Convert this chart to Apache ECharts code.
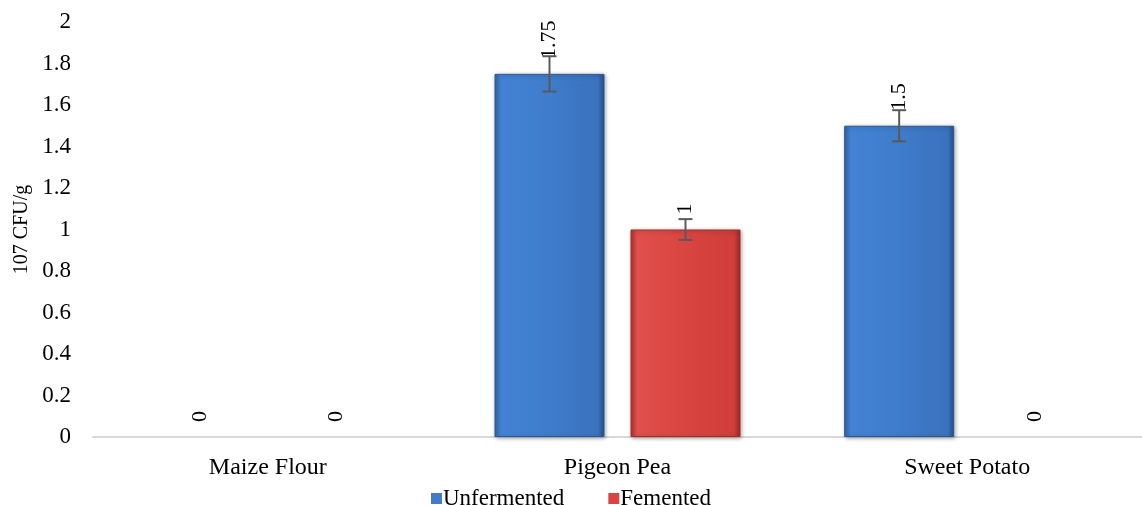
<!DOCTYPE html>
<html>
<head>
<meta charset="utf-8">
<script src="https://cdn.jsdelivr.net/npm/echarts@6/dist/echarts.min.js"></script>
<style>html,body{margin:0;padding:0;background:#fff}#c{width:1142px;height:505px}</style>
</head>
<body>
<div id="c"></div>
<script>
var categories = ['Maize Flour', 'Pigeon Pea', 'Sweet Potato'];
var unfermented = [0, 1.75, 1.5];
var femented = [0, 1, 0];
var unfermentedErr = [null, 0.085, 0.075];
var fementedErr = [null, 0.05, null];
var yTicks = [0, 0.2, 0.4, 0.6, 0.8, 1, 1.2, 1.4, 1.6, 1.8, 2];

var FONT = '"Liberation Serif", "Times New Roman", serif';
var BW = 110, GAP = 26;
var chart = echarts.init(document.getElementById('c'));

function blueFill() {
  return new echarts.graphic.LinearGradient(0, 0, 1, 0, [
    {offset: 0, color: '#3567a8'}, {offset: 0.06, color: '#4382d4'},
    {offset: 0.5, color: '#3f7ccb'}, {offset: 0.94, color: '#3a72bd'}, {offset: 1, color: '#284f86'}
  ]);
}
function redFill() {
  return new echarts.graphic.LinearGradient(0, 0, 1, 0, [
    {offset: 0, color: '#b03330'}, {offset: 0.06, color: '#e0504c'},
    {offset: 0.5, color: '#d94541'}, {offset: 0.94, color: '#cf3e3a'}, {offset: 1, color: '#9a2825'}
  ]);
}

function barData(values, fill, border) {
  return values.map(function (v) {
    if (v === 0) return {value: v, itemStyle: {color: 'rgba(0,0,0,0)', borderWidth: 0, shadowBlur: 0, shadowColor: 'rgba(0,0,0,0)'}};
    return {value: v, itemStyle: {color: fill(), borderColor: border, borderWidth: 1,
      shadowColor: 'rgba(0,0,0,0.35)', shadowBlur: 4, shadowOffsetX: 1, shadowOffsetY: 1}};
  });
}

function errSeries(name, values, errs, offsetIdx) {
  var data = [];
  for (var i = 0; i < values.length; i++) {
    if (errs[i] != null) data.push([i, values[i] - errs[i], values[i] + errs[i]]);
  }
  return {
    type: 'custom',
    name: name + ' err',
    z: 10,
    silent: true,
    renderItem: function (params, api) {
      var x = api.value(0);
      var lo = api.coord([x, api.value(1)]);
      var hi = api.coord([x, api.value(2)]);
      var shift = offsetIdx === 0 ? -(GAP / 2 + BW / 2) : (GAP / 2 + BW / 2);
      var cx = lo[0] + shift;
      var cap = 7;
      var st = {stroke: '#5a5a5a', lineWidth: 2};
      return {type: 'group', children: [
        {type: 'line', shape: {x1: cx, y1: lo[1], x2: cx, y2: hi[1]}, style: st},
        {type: 'line', shape: {x1: cx - cap, y1: lo[1], x2: cx + cap, y2: lo[1]}, style: st},
        {type: 'line', shape: {x1: cx - cap, y1: hi[1], x2: cx + cap, y2: hi[1]}, style: st}
      ]};
    },
    encode: {x: 0, y: [1, 2]},
    data: data
  };
}

var labelCfg = {
  show: true, position: 'top', rotate: 90, align: 'left', verticalAlign: 'middle',
  distance: 15, fontFamily: FONT, fontSize: 22, color: '#000',
  formatter: function (p) { return String(p.value); }
};

chart.setOption({
  animation: false,
  textStyle: {fontFamily: FONT},
  grid: {left: 93, right: 0, top: 22, bottom: 68},
  legend: {
    top: 482, left: 'center', itemWidth: 11, itemHeight: 11, itemGap: 44, icon: 'rect',
    textStyle: {fontFamily: FONT, fontSize: 23, color: '#000', padding: [0, 0, 0, -4]},
    data: ['Unfermented', 'Femented']
  },
  xAxis: {
    type: 'category', data: categories,
    axisLine: {lineStyle: {color: '#d9d9d9', width: 2}},
    axisTick: {show: false},
    axisLabel: {fontFamily: FONT, fontSize: 24, color: '#000', margin: 19}
  },
  yAxis: {
    type: 'value', min: 0, max: 2, interval: 0.2,
    name: '107 CFU/g', nameLocation: 'middle', nameGap: 61,
    nameTextStyle: {fontFamily: FONT, fontSize: 20, color: '#000'},
    axisLine: {show: false}, axisTick: {show: false}, splitLine: {show: false},
    axisLabel: {fontFamily: FONT, fontSize: 23, color: '#000', margin: 22,
      formatter: function (v) { return String(Math.round(v * 10) / 10); }}
  },
  series: [
    {name: 'Unfermented', type: 'bar', data: barData(unfermented, blueFill, '#2b5a96'), barWidth: BW, barGap: (GAP / BW * 100) + '%',
      itemStyle: {color: '#3f7ccb'}, label: labelCfg},
    {name: 'Femented', type: 'bar', data: barData(femented, redFill, '#a52d2a'), barWidth: BW,
      itemStyle: {color: '#d94541'}, label: labelCfg},
    errSeries('Unfermented', unfermented, unfermentedErr, 0),
    errSeries('Femented', femented, fementedErr, 1)
  ]
});
</script>
</body>
</html>
